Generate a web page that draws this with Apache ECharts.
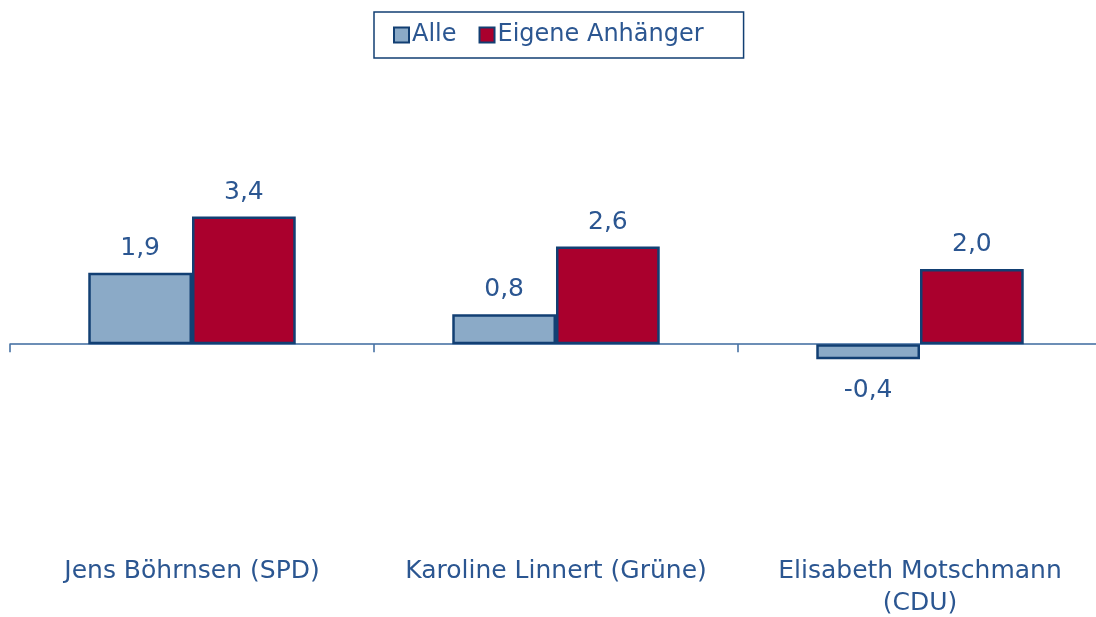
<!DOCTYPE html>
<html>
<head>
<meta charset="utf-8">
<script src="https://cdn.jsdelivr.net/npm/echarts@6/dist/echarts.min.js"></script>
<style>
  html, body { margin: 0; padding: 0; background: #fff; }
  #chart { width: 1096px; height: 617px; }
</style>
</head>
<body>
<div id="chart"></div>
<script>
// Daten
const categories = ["Jens Böhrnsen (SPD)", "Karoline Linnert (Grüne)", "Elisabeth Motschmann\n(CDU)"];
const alle = [1.9, 0.8, -0.4];
const eigeneAnhaenger = [3.4, 2.6, 2.0];
const seriesNames = ["Alle", "Eigene Anhänger"];

const textColor = "#2B5691";
const borderColor = "#123F73";
const fontFamily = "DejaVu Sans, Verdana, sans-serif";

const chart = echarts.init(document.getElementById("chart"));

function fmt(p) {
  return p.value.toFixed(1).replace(".", ",");
}

const option = {
  animation: false,
  textStyle: { fontFamily: fontFamily },
  legend: {
    top: 12,
    left: 374,
    data: seriesNames,
    icon: "rect",
    itemWidth: 15,
    itemHeight: 15,
    itemGap: 22,
    borderColor: borderColor,
    borderWidth: 1.5,
    padding: [11, 40, 11, 19],
    textStyle: { color: textColor, fontSize: 24, fontFamily: fontFamily, padding: [0, 0, 0, -2] }
  },
  grid: {
    left: 10,
    width: 1092,
    top: 194,
    height: 338,
    containLabel: false,
    outerBoundsMode: "none"
  },
  xAxis: [
    {
      // Beschriftung unten
      type: "category",
      data: categories,
      position: "bottom",
      axisLine: { show: false, onZero: false },
      axisTick: { show: false },
      axisLabel: {
        color: textColor,
        fontSize: 25,
        lineHeight: 32,
        margin: 23,
        interval: 0
      }
    },
    {
      // Nulllinie mit Strichen
      type: "category",
      data: categories,
      position: "bottom",
      axisLine: { show: true, onZero: true, lineStyle: { color: "#3C6A9E", width: 1.5 } },
      axisTick: { show: true, length: 8, lineStyle: { color: "#3C6A9E", width: 1.5 } },
      axisLabel: { show: false }
    }
  ],
  yAxis: {
    type: "value",
    min: -5,
    max: 4,
    show: false,
    splitLine: { show: false }
  },
  series: [
    {
      name: seriesNames[0],
      type: "bar",
      // negative Werte: Beschriftung unter dem Balken
      data: alle.map(function (v) {
        return v < 0 ? { value: v, label: { position: "bottom", distance: 19 } } : v;
      }),
      barGap: "0%",
      barCategoryGap: "43%",
      itemStyle: { color: "#8BAAC7", borderColor: borderColor, borderWidth: 2.5 },
      label: {
        show: true,
        position: "top",
        distance: 12,
        color: textColor,
        fontSize: 25,
        formatter: fmt
      }
    },
    {
      name: seriesNames[1],
      type: "bar",
      data: eigeneAnhaenger,
      barGap: "0%",
      barCategoryGap: "43%",
      itemStyle: { color: "#AA002D", borderColor: borderColor, borderWidth: 2.5 },
      label: {
        show: true,
        position: "top",
        distance: 12,
        color: textColor,
        fontSize: 25,
        formatter: fmt
      }
    }
  ]
};

chart.setOption(option);
window.addEventListener("resize", () => {
  chart.resize();
});
</script>
</body>
</html>
